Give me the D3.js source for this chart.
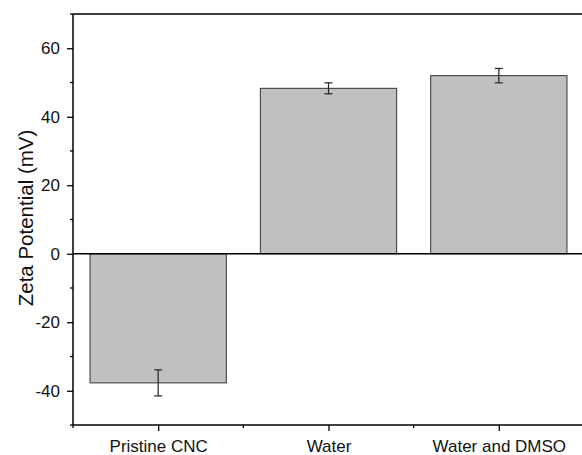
<!DOCTYPE html>
<html>
<head>
<meta charset="utf-8">
<script src="https://cdn.jsdelivr.net/npm/d3@7"></script>
<style>
  html, body { margin: 0; padding: 0; background: #fff; }
  svg { display: block; font-family: Arial, "Liberation Sans", sans-serif; }
</style>
</head>
<body>
<svg id="chart" width="582" height="455"></svg>
<script>
// Zeta potential per sample (mV) with standard deviations
const categories = ["Pristine CNC", "Water", "Water and DMSO"];
const values = [-37.7, 48.3, 52.0];
const errors = [3.8, 1.6, 2.1];
const yTicks = [-40, -20, 0, 20, 40, 60];
const yMinorTicks = [-50, -30, -10, 10, 30, 50, 70];

const svg = d3.select("#chart");
const margin = { left: 73, top: 14, right: -2, bottom: 30 };
const W = 582, H = 455;
const x0 = margin.left, x1 = W - margin.right;
const yTop = margin.top, yBot = H - margin.bottom;
const FONT = "Arial, 'Liberation Sans', sans-serif";

const x = d3.scaleLinear().domain([0.5, categories.length + 0.5]).range([x0, x1]);
const y = d3.scaleLinear().domain([-50, 70]).range([yBot, yTop]);
const barW = (x(2) - x(1)) * 0.8;

// bars
svg.append("g").selectAll("rect").data(values).join("rect")
  .attr("x", (d, i) => x(i + 1) - barW / 2)
  .attr("width", barW)
  .attr("y", d => y(Math.max(0, d)))
  .attr("height", d => Math.abs(y(d) - y(0)))
  .attr("fill", "#c0c0c0")
  .attr("stroke", "#333")
  .attr("stroke-width", 1);

// zero line
svg.append("line")
  .attr("x1", x0).attr("x2", x1)
  .attr("y1", y(0)).attr("y2", y(0))
  .attr("stroke", "#000").attr("stroke-width", 1.3);

// error bars
const eg = svg.append("g").attr("stroke", "#222").attr("stroke-width", 1.2);
values.forEach((v, i) => {
  const cx = x(i + 1);
  eg.append("line").attr("x1", cx).attr("x2", cx)
    .attr("y1", y(v - errors[i])).attr("y2", y(v + errors[i]));
  [v - errors[i], v + errors[i]].forEach(e => {
    eg.append("line").attr("x1", cx - 4).attr("x2", cx + 4)
      .attr("y1", y(e)).attr("y2", y(e));
  });
});

// frame top line
svg.append("line").attr("x1", x0).attr("x2", x1)
  .attr("y1", yTop).attr("y2", yTop)
  .attr("stroke", "#000").attr("stroke-width", 1.5);

// y axis
const yAxis = svg.append("g").attr("transform", `translate(${x0},0)`)
  .call(d3.axisLeft(y).tickValues(yTicks).tickSize(6).tickPadding(7).tickFormat(d => String(d)));
yAxis.selectAll(".tick line").attr("stroke-width", 1.3);
yAxis.select(".domain").attr("stroke-width", 1.5).attr("d", `M0,${yTop}V${yBot}`);
yAxis.selectAll("text").attr("font-size", 17).attr("fill", "#111").attr("font-family", FONT);
svg.append("g").attr("transform", `translate(${x0},0)`)
  .selectAll("line").data(yMinorTicks).join("line")
  .attr("x1", -3).attr("x2", 0)
  .attr("y1", d => y(d)).attr("y2", d => y(d))
  .attr("stroke", "#000").attr("stroke-width", 1.3);

// x axis
const xAxis = svg.append("g").attr("transform", `translate(0,${yBot})`)
  .call(d3.axisBottom(x).tickValues([1, 2, 3]).tickSize(6).tickPadding(9)
    .tickFormat(d => categories[d - 1]));
xAxis.select(".domain").attr("stroke-width", 1.5).attr("d", `M${x0},0H${x1}`);
xAxis.selectAll(".tick line").attr("stroke-width", 1.3);
xAxis.selectAll("text").attr("font-size", 17).attr("fill", "#111").attr("font-family", FONT);
svg.append("g").attr("transform", `translate(0,${yBot})`)
  .selectAll("line").data([0.5, 1.5, 2.5]).join("line")
  .attr("x1", d => x(d)).attr("x2", d => x(d))
  .attr("y1", 0).attr("y2", 3)
  .attr("stroke", "#000").attr("stroke-width", 1.3);

// y axis title
svg.append("text")
  .attr("transform", `translate(33,218) rotate(-90)`)
  .attr("text-anchor", "middle")
  .attr("font-size", 20.5)
  .attr("font-family", FONT)
  .attr("fill", "#111")
  .text("Zeta Potential (mV)");
</script>
</body>
</html>
